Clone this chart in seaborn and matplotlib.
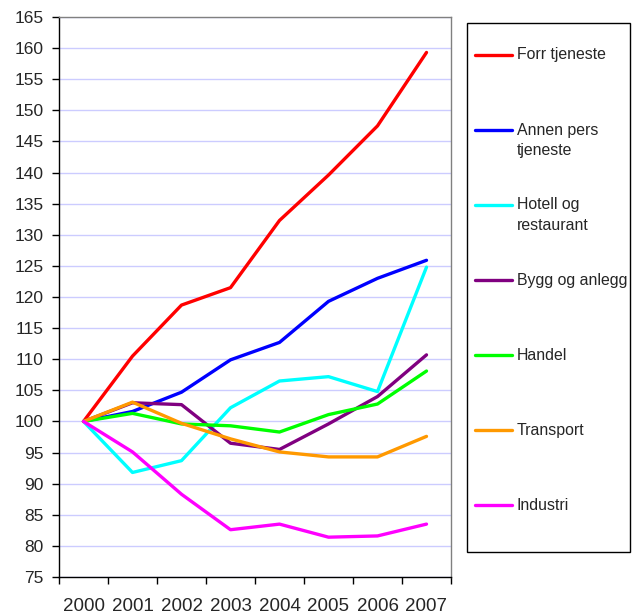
import numpy as np
import pandas as pd
import matplotlib
matplotlib.use("Agg")
import matplotlib.pyplot as plt
import seaborn as sns

# Data (index, 2000 = 100)
years = ["2000", "2001", "2002", "2003", "2004", "2005", "2006", "2007"]
series_names = ["Forr tjeneste", "Annen pers\ntjeneste", "Hotell og\nrestaurant",
                "Bygg og anlegg", "Handel", "Transport", "Industri"]
forr_tjeneste = [100, 110.5, 118.7, 121.5, 132.3, 139.6, 147.5, 159.3]
annen_pers = [100, 101.6, 104.7, 109.9, 112.7, 119.3, 123.0, 125.9]
hotell = [100, 91.8, 93.7, 102.2, 106.5, 107.2, 104.8, 124.8]
bygg = [100, 103.0, 102.7, 96.5, 95.5, 99.6, 104.0, 110.7]
handel = [100, 101.3, 99.6, 99.3, 98.3, 101.1, 102.8, 108.1]
transport = [100, 103.1, 99.7, 97.2, 95.1, 94.3, 94.3, 97.6]
industri = [100, 95.1, 88.3, 82.6, 83.5, 81.4, 81.6, 83.5]
colors = ["#ff0000", "#0000ff", "#00ffff", "#800080", "#00ff00", "#ff9900", "#ff00ff"]

values = [forr_tjeneste, annen_pers, hotell, bygg, handel, transport, industri]
rows = []
for name, vals in zip(series_names, values):
    for i, v in enumerate(vals):
        rows.append({"pos": i, "year": years[i], "serie": name, "index": v})
df = pd.DataFrame(rows)

sns.set_style("white")
plt.rcParams["font.family"] = ["Liberation Sans", "DejaVu Sans"]

W, H = 639, 615
fig = plt.figure(figsize=(W / 100, H / 100), dpi=100)
ax = fig.add_axes([59 / W, 1 - 577 / H, 392 / W, 560 / H])

sns.lineplot(data=df, x="pos", y="index", hue="serie", hue_order=series_names,
             palette=dict(zip(series_names, colors)), linewidth=2.4,
             ax=ax, legend=False, solid_capstyle="round", solid_joinstyle="round")

ax.set_xlim(-0.5, 7.5)
ax.set_ylim(75, 165)
ax.set_yticks(np.arange(75, 166, 5))
ax.set_xticks(range(len(years)))
ax.set_xticklabels(years)
ax.set_xticks(np.arange(-0.5, 8, 1), minor=True)
ax.tick_params(axis="x", which="major", length=0, pad=15, labelsize=13.5)
ax.tick_params(axis="x", which="minor", length=5, width=1, color="black", direction="out", bottom=True)
ax.tick_params(axis="y", length=5, width=1, color="black", direction="out", left=True,
               pad=6, labelsize=12.5)
ax.set_xlabel("")
ax.set_ylabel("")

ax.yaxis.grid(True, color="#ccccff", linewidth=1)
ax.set_axisbelow(True)
for s in ["left", "bottom"]:
    ax.spines[s].set_color("black")
    ax.spines[s].set_linewidth(1)
for s in ["top", "right"]:
    ax.spines[s].set_color("#808080")
    ax.spines[s].set_linewidth(1)

# Legend box, Excel style: entries evenly spaced, line aligned with first text line
fig.add_artist(plt.Rectangle((467 / W, 1 - 552 / H), 163 / W, 529 / H,
                             transform=fig.transFigure, fill=False,
                             edgecolor="black", linewidth=1))
for i, (name, c) in enumerate(zip(series_names, colors)):
    y = 55 + 75 * i
    fig.add_artist(plt.Line2D([475 / W, 512 / W], [1 - y / H, 1 - y / H],
                              transform=fig.transFigure, color=c, linewidth=2.4,
                              solid_capstyle="round"))
    for k, line in enumerate(name.split("\n")):
        fig.text(517 / W, 1 - (y + 21 * k) / H, line, fontsize=11.4,
                 va="center", ha="left")

fig.savefig("out.png", dpi=100)
